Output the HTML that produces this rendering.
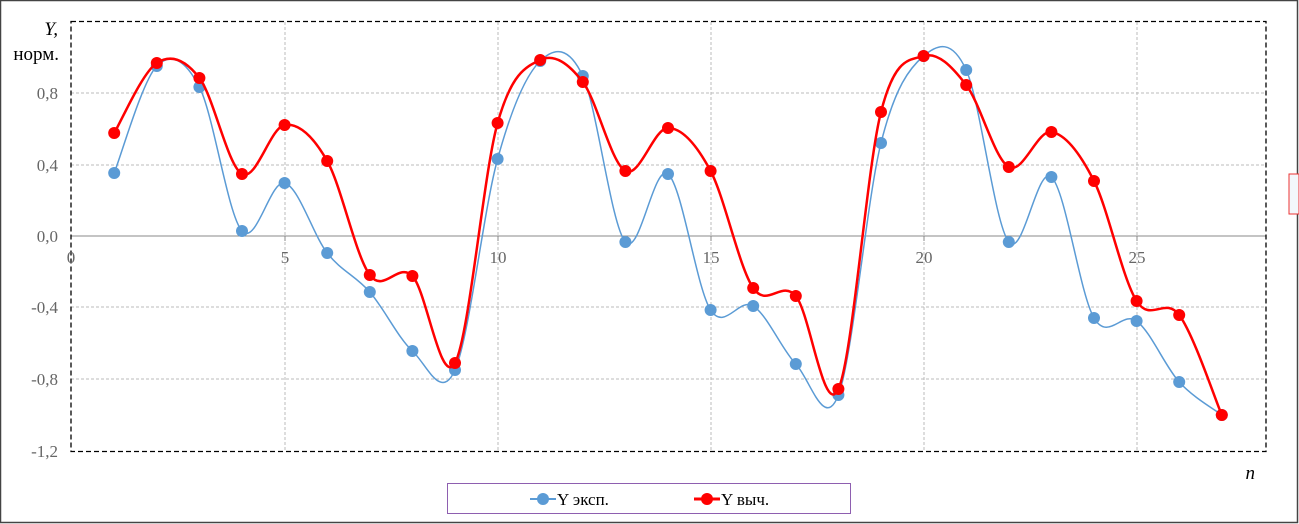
<!DOCTYPE html>
<html><head><meta charset="utf-8"><style>
html,body{margin:0;padding:0;background:#fff}
svg{display:block}
</style></head><body>
<svg id="s" width="1299" height="524" xmlns="http://www.w3.org/2000/svg" font-family="Liberation Serif, serif">
<rect x="0.5" y="0.5" width="1297" height="522" fill="#fff" stroke="#444" stroke-width="1.5"/>
<g stroke="#bbb" stroke-dasharray="3,2" stroke-width="1">
<line x1="71" y1="93" x2="1266" y2="93"/><line x1="71" y1="165" x2="1266" y2="165"/>
<line x1="71" y1="307" x2="1266" y2="307"/><line x1="71" y1="379" x2="1266" y2="379"/>
<line x1="285" y1="22" x2="285" y2="451"/><line x1="498" y1="22" x2="498" y2="451"/>
<line x1="711" y1="22" x2="711" y2="451"/><line x1="924" y1="22" x2="924" y2="451"/>
<line x1="1137" y1="22" x2="1137" y2="451"/>
</g>
<line x1="71" y1="236" x2="1266" y2="236" stroke="#888" stroke-width="1"/>
<g stroke="#888"><line x1="285" y1="236" x2="285" y2="241"/><line x1="498" y1="236" x2="498" y2="241"/><line x1="711" y1="236" x2="711" y2="241"/><line x1="924" y1="236" x2="924" y2="241"/><line x1="1137" y1="236" x2="1137" y2="241"/></g>
<rect x="71" y="21.5" width="1195" height="430" fill="none" stroke="#000" stroke-dasharray="5,3" stroke-width="1.3"/>
<g font-size="17" fill="#666" text-anchor="end">
<text x="58" y="99">0,8</text><text x="58" y="171">0,4</text><text x="58" y="242">0,0</text>
<text x="58" y="313">-0,4</text><text x="58" y="385">-0,8</text><text x="58" y="457">-1,2</text>
</g>
<g font-size="17" fill="#666" text-anchor="middle">
<text x="71" y="263">0</text><text x="285" y="263">5</text><text x="498" y="263">10</text>
<text x="711" y="263">15</text><text x="924" y="263">20</text><text x="1137" y="263">25</text>
</g>
<text x="58" y="35" font-size="19" font-style="italic" text-anchor="end">Y,</text>
<text x="59" y="60" font-size="19" text-anchor="end">норм.</text>
<text x="1255" y="479" font-size="19" font-style="italic" text-anchor="end">n</text>
<rect x="1289" y="174" width="10" height="40" fill="#f3f7fb" stroke="#e33" stroke-width="1"/>
<g id="plot"></g>
<rect x="447.5" y="483.5" width="403" height="30" fill="#fff" stroke="#8e5fb0" stroke-width="1"/>
<line x1="530" y1="499" x2="556" y2="499" stroke="#5b9bd5" stroke-width="2"/><circle cx="543" cy="499" r="6" fill="#5b9bd5"/>
<text x="557" y="505" font-size="17" fill="#000">Y эксп.</text>
<line x1="694" y1="499" x2="720" y2="499" stroke="#f00" stroke-width="3"/><circle cx="707" cy="499" r="6" fill="#f00"/>
<text x="721" y="505" font-size="17" fill="#000">Y выч.</text>
</svg>
<script>
var B=[173,66,87,231,183,253,292,351,370,159,61,76,242,174,310,306,364,395,143,56,70,242,177,318,321,382,415];
var R=[133,63,78,174,125,161,275,276,363,123,60,82,171,128,171,288,296,389,112,56,85,167,132,181,301,315,415];
function X(n){return 71.6+42.6*n;}
function path(Y){var p=Y.map(function(y,i){return [X(i+1),y];});var d="M"+p[0][0]+","+p[0][1];
for(var i=0;i<p.length-1;i++){var a=p[i-1]||p[i],b=p[i],c=p[i+1],e=p[i+2]||c;
d+=" C"+(b[0]+(c[0]-a[0])/6)+","+(b[1]+(c[1]-a[1])/6)+" "+(c[0]-(e[0]-b[0])/6)+","+(c[1]-(e[1]-b[1])/6)+" "+c[0]+","+c[1];}return d;}
var g=document.getElementById("plot"),h="";
h+='<path d="'+path(B)+'" fill="none" stroke="#5b9bd5" stroke-width="1.5"/>';
B.forEach(function(y,i){h+='<circle cx="'+X(i+1)+'" cy="'+y+'" r="6" fill="#5b9bd5"/>';});
h+='<path d="'+path(R)+'" fill="none" stroke="#f00" stroke-width="2.5"/>';
R.forEach(function(y,i){h+='<circle cx="'+X(i+1)+'" cy="'+y+'" r="6" fill="#f00"/>';});
g.innerHTML=h;
</script>
</body></html>
